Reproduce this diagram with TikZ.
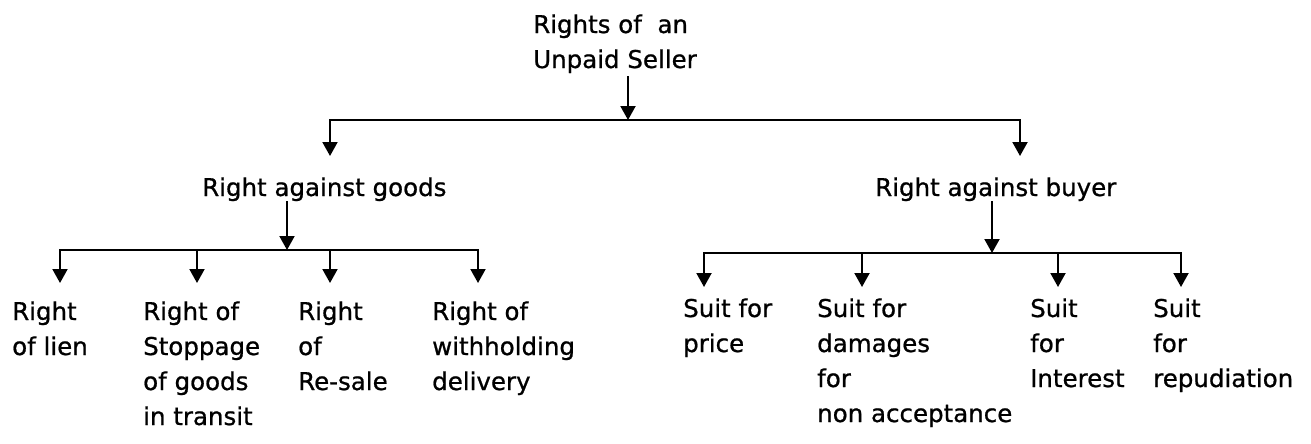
\documentclass[tikz,border=0pt]{standalone}
\usepackage{fontspec}
\setmainfont{DejaVu Sans}
\newfontfamily\lblfont{DejaVu Sans}[FakeBold=0.8]
\usetikzlibrary{arrows.meta}

\begin{document}
\begin{tikzpicture}[x=1pt,y=-1pt,
  lbl/.style={inner sep=0pt,anchor=base west,align=left,font=\lblfont\fontsize{24.5}{35}\selectfont},
  bar/.style={line width=2pt,line cap=rect},
  arr/.style={line width=2pt,-{Triangle[length=14pt,width=15pt]}}]
  \useasboundingbox (0,0) rectangle (1311,444);
  % top of the tree (nodes sit on the baseline of their last line)
  \node[lbl] (root) at (533,68) {Rights of \ an\\Unpaid Seller};
  \coordinate (rootj) at (628,120);
  \coordinate (rootL) at (330,120);
  \coordinate (rootR) at (1020,120);
  \coordinate (rootL-t) at (330,156);
  \coordinate (rootR-t) at (1020,156);
  \draw[arr] ([yshift=-3pt]root.south -| rootj) -- (rootj);
  \draw[bar] (rootL) -- (rootR);
  \draw[arr] (rootL) -- (rootL-t);
  \draw[arr] (rootR) -- (rootR-t);

  % against goods
  \node[lbl] (goods) at (202,196) {Right against goods};
  \coordinate (gj) at (287,250);
  \draw[arr] (goods.south -| gj) -- (gj);
  \foreach \x [count=\i] in {60,197,330,478}{
    \coordinate (g\i) at (\x,250);
    \coordinate (g\i-t) at (\x,283);
    \draw[arr] (g\i) -- (g\i-t);}
  \draw[bar] (g1) -- (g4);
  \node[lbl] (lien) at (12,355) {Right\\of lien};
  \node[lbl] (stoppage) at (143,425) {Right of\\Stoppage\\of goods\\in transit};
  \node[lbl] (resale) at (298,390) {Right\\of\\Re-sale};
  \node[lbl] (withhold) at (432,390) {Right of\\withholding\\delivery};

  % against buyer
  \node[lbl] (buyer) at (875,196) {Right against buyer};
  \coordinate (bj) at (992,253);
  \draw[arr] (buyer.south -| bj) -- (bj);
  \foreach \x [count=\i] in {704,862,1058,1181}{
    \coordinate (b\i) at (\x,253);
    \coordinate (b\i-t) at (\x,287);
    \draw[arr] (b\i) -- (b\i-t);}
  \draw[bar] (b1) -- (b4);
  \node[lbl] (price) at (683,352) {Suit for\\price};
  \node[lbl] (damages) at (817,422) {Suit for\\damages\\for\\non acceptance};
  \node[lbl] (interest) at (1030,387) {Suit\\for\\Interest};
  \node[lbl] (repud) at (1153,387) {Suit\\for\\repudiation};
\end{tikzpicture}
\end{document}
